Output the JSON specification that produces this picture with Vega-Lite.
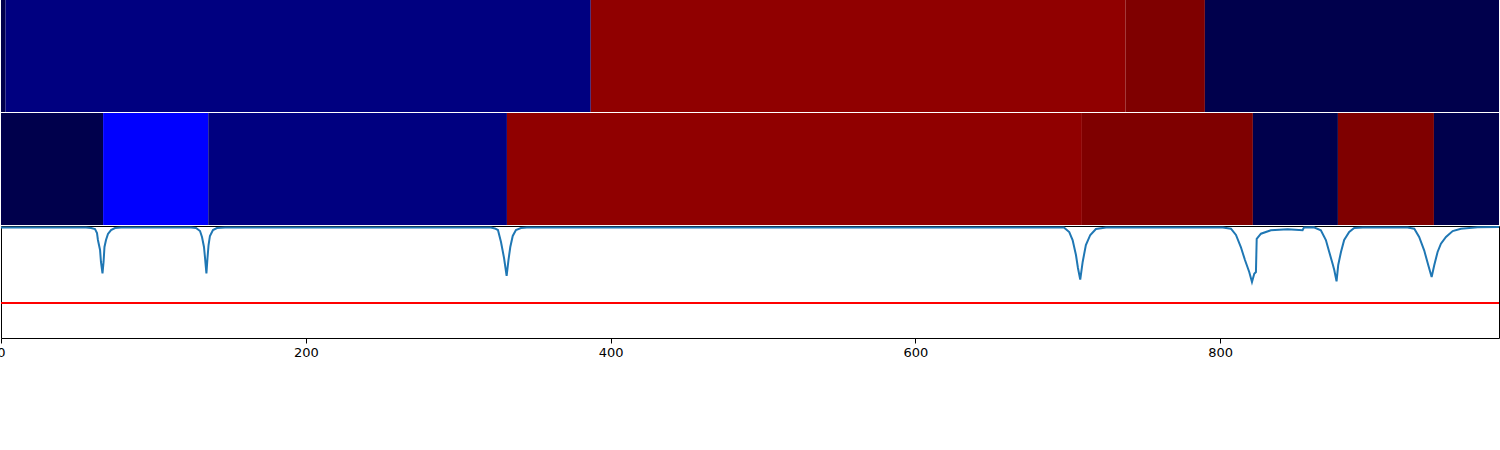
{
  "$schema": "https://vega.github.io/schema/vega-lite/v6.json",
  "padding": {"left": -4, "top": 0, "right": 0, "bottom": 0},
  "background": "white",
  "spacing": 1,
  "bounds": "flush",
  "config": {"view": {"stroke": "black", "strokeWidth": 1}},
  "datasets": {
    "top": [
      {"start": 0, "end": 3, "state": "L3"},
      {"start": 3, "end": 387, "state": "L2"},
      {"start": 387, "end": 738, "state": "H1"},
      {"start": 738, "end": 790, "state": "H2"},
      {"start": 790, "end": 983, "state": "L3"}
    ],
    "middle": [
      {"start": 0, "end": 67, "state": "L3"},
      {"start": 67, "end": 136, "state": "L1"},
      {"start": 136, "end": 332, "state": "L2"},
      {"start": 332, "end": 709.3, "state": "H1"},
      {"start": 709.3, "end": 821.5, "state": "H2"},
      {"start": 821.5, "end": 877.3, "state": "L3"},
      {"start": 877.3, "end": 940.3, "state": "H2"},
      {"start": 940.3, "end": 983, "state": "L3"}
    ],
    "line": [
      {"t": 0, "v": 0.987}, {"t": 55.8, "v": 0.987}, {"t": 59.1, "v": 0.982}, {"t": 61.7, "v": 0.973},
      {"t": 63.0, "v": 0.9375}, {"t": 63.6, "v": 0.875}, {"t": 65.0, "v": 0.786}, {"t": 65.6, "v": 0.679},
      {"t": 66.6, "v": 0.576}, {"t": 67.3, "v": 0.679}, {"t": 67.9, "v": 0.8125}, {"t": 68.9, "v": 0.875},
      {"t": 70.2, "v": 0.929}, {"t": 72.2, "v": 0.964}, {"t": 74.8, "v": 0.982}, {"t": 78.7, "v": 0.987},
      {"t": 124.7, "v": 0.987}, {"t": 128.0, "v": 0.982}, {"t": 130.6, "v": 0.955}, {"t": 131.9, "v": 0.902},
      {"t": 133.2, "v": 0.8125}, {"t": 133.9, "v": 0.714}, {"t": 134.8, "v": 0.576}, {"t": 135.5, "v": 0.714},
      {"t": 136.2, "v": 0.83}, {"t": 137.1, "v": 0.911}, {"t": 139.1, "v": 0.964}, {"t": 141.7, "v": 0.982},
      {"t": 147.0, "v": 0.987},
      {"t": 321.5, "v": 0.987}, {"t": 324.1, "v": 0.978}, {"t": 326.1, "v": 0.964}, {"t": 328.1, "v": 0.857},
      {"t": 330.1, "v": 0.714}, {"t": 331.8, "v": 0.554}, {"t": 333.0, "v": 0.696}, {"t": 334.2, "v": 0.8125},
      {"t": 335.8, "v": 0.911}, {"t": 337.9, "v": 0.964}, {"t": 341.2, "v": 0.982}, {"t": 345.1, "v": 0.987},
      {"t": 697.5, "v": 0.987}, {"t": 701.0, "v": 0.946}, {"t": 703.2, "v": 0.875}, {"t": 705.4, "v": 0.741},
      {"t": 706.7, "v": 0.625}, {"t": 708.2, "v": 0.522}, {"t": 709.8, "v": 0.679}, {"t": 711.9, "v": 0.83},
      {"t": 714.8, "v": 0.92}, {"t": 718.5, "v": 0.973}, {"t": 725.1, "v": 0.987},
      {"t": 801.8, "v": 0.987}, {"t": 807.1, "v": 0.976}, {"t": 810.4, "v": 0.92}, {"t": 813.6, "v": 0.8125},
      {"t": 816.3, "v": 0.696}, {"t": 819.1, "v": 0.589}, {"t": 820.9, "v": 0.5}, {"t": 822.4, "v": 0.574},
      {"t": 823.5, "v": 0.589}, {"t": 824.0, "v": 0.886}, {"t": 826.8, "v": 0.931}, {"t": 833.3, "v": 0.962},
      {"t": 844.3, "v": 0.971}, {"t": 854.1, "v": 0.962}, {"t": 855.0, "v": 0.987}, {"t": 861.5, "v": 0.989},
      {"t": 866.1, "v": 0.962}, {"t": 869.4, "v": 0.875}, {"t": 871.6, "v": 0.768}, {"t": 873.8, "v": 0.663},
      {"t": 874.9, "v": 0.607}, {"t": 876.4, "v": 0.506}, {"t": 877.5, "v": 0.652}, {"t": 879.3, "v": 0.768},
      {"t": 881.4, "v": 0.875}, {"t": 884.7, "v": 0.946}, {"t": 888.0, "v": 0.982}, {"t": 893.7, "v": 0.987},
      {"t": 923.0, "v": 0.987}, {"t": 927.4, "v": 0.976}, {"t": 930.6, "v": 0.902}, {"t": 933.9, "v": 0.783},
      {"t": 936.6, "v": 0.649}, {"t": 938.8, "v": 0.545}, {"t": 940.5, "v": 0.649}, {"t": 942.7, "v": 0.768},
      {"t": 944.9, "v": 0.842}, {"t": 948.2, "v": 0.902}, {"t": 952.6, "v": 0.955}, {"t": 958.0, "v": 0.976},
      {"t": 969.0, "v": 0.989}, {"t": 983.0, "v": 0.991}
    ],
    "threshold": [{"threshold": 0.3125}]
  },
  "vconcat": [
    {
      "width": 1498,
      "height": 112,
      "view": {"stroke": null},
      "data": {"name": "top"},
      "mark": {"type": "rect"},
      "encoding": {
        "x": {"field": "start", "type": "quantitative", "scale": {"domain": [0, 983], "nice": false}, "axis": null},
        "x2": {"field": "end"},
        "color": {
          "field": "state", "type": "nominal",
          "scale": {"domain": ["L3", "L2", "L1", "H1", "H2"], "range": ["#00004c", "#000080", "#0000ff", "#900000", "#7f0000"]},
          "legend": null
        }
      }
    },
    {
      "width": 1498,
      "height": 112,
      "view": {"stroke": null},
      "data": {"name": "middle"},
      "mark": {"type": "rect"},
      "encoding": {
        "x": {"field": "start", "type": "quantitative", "scale": {"domain": [0, 983], "nice": false}, "axis": null},
        "x2": {"field": "end"},
        "color": {
          "field": "state", "type": "nominal",
          "scale": {"domain": ["L3", "L2", "L1", "H1", "H2"], "range": ["#00004c", "#000080", "#0000ff", "#900000", "#7f0000"]},
          "legend": null
        }
      }
    },
    {
      "width": 1498,
      "height": 112,
      "layer": [
        {
          "data": {"name": "line"},
          "mark": {"type": "line", "color": "#1f77b4", "strokeWidth": 2},
          "encoding": {
            "x": {
              "field": "t", "type": "quantitative",
              "scale": {"domain": [0, 983], "nice": false},
              "axis": {
                "values": [0, 200, 400, 600, 800], "grid": false, "domain": false, "title": null,
                "tickColor": "black", "tickSize": 5, "tickWidth": 1,
                "labelColor": "black", "labelFont": "DejaVu Sans", "labelFontSize": 13,
                "labelPadding": 3, "labelFlush": false, "labelBound": false
              }
            },
            "y": {"field": "v", "type": "quantitative", "scale": {"domain": [0, 1], "nice": false}, "axis": null}
          }
        },
        {
          "data": {"name": "threshold"},
          "mark": {"type": "rule", "color": "#ff0000", "strokeWidth": 2},
          "encoding": {
            "y": {"field": "threshold", "type": "quantitative"}
          }
        }
      ]
    }
  ]
}
